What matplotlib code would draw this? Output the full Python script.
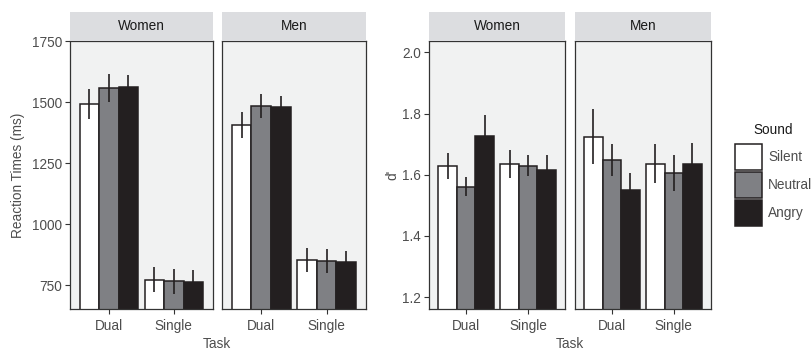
import numpy as np
import matplotlib
matplotlib.use('Agg')
import matplotlib.pyplot as plt
from matplotlib.patches import Rectangle

plt.rcParams['font.family'] = ['Liberation Sans', 'DejaVu Sans']
plt.rcParams['font.size'] = 9.8

sounds = ['Silent', 'Neutral', 'Angry']
tasks = ['Dual', 'Single']
genders = ['Women', 'Men']

# mean reaction time (ms) and error, rows = task, columns = sound
rt_women = [[1493, 1559, 1561], [773, 767, 765]]
rt_women_err = [[60, 56, 49], [52, 52, 46]]
rt_men = [[1407, 1484, 1482], [853, 848, 846]]
rt_men_err = [[52, 49, 44], [48, 49, 45]]

# sensitivity d'
dp_women = [[1.629, 1.560, 1.728], [1.634, 1.630, 1.616]]
dp_women_err = [[0.043, 0.031, 0.066], [0.046, 0.035, 0.050]]
dp_men = [[1.724, 1.648, 1.549], [1.636, 1.605, 1.634]]
dp_men_err = [[0.090, 0.053, 0.058], [0.063, 0.059, 0.070]]

fills = ['#ffffff', '#7f8084', '#231f20']
edge = '#231f20'
panel_bg = '#f1f2f2'
strip_bg = '#dcdde0'
grey_txt = '#4d4d4d'

W, H = 812, 349
fig = plt.figure(figsize=(W / 100, H / 100), dpi=100)


def px_axes(x0, x1, y0, y1):
    return fig.add_axes([x0 / W, 1 - y1 / H, (x1 - x0) / W, (y1 - y0) / H])


def draw_panel(ax, means, errs, ylim, yticks, ylabels, title):
    means = np.array(means)
    errs = np.array(errs)
    x = np.arange(1, len(tasks) + 1)
    width = 0.3
    for i in range(len(sounds)):
        xs = x + (i - 1) * width
        ax.bar(xs, means[:, i], width=width, color=fills[i], edgecolor=edge,
               linewidth=1.1, zorder=2)
        ax.errorbar(xs, means[:, i], yerr=errs[:, i], fmt='none',
                    ecolor=edge, elinewidth=1.2, capsize=0, zorder=3)
    ax.set_xlim(0.4, 2.6)
    ax.set_ylim(*ylim)
    ax.set_facecolor(panel_bg)
    for s in ax.spines.values():
        s.set_color('#333333')
        s.set_linewidth(0.9)
        s.set_zorder(4)
    ax.set_xticks(x)
    ax.set_xticklabels(tasks, color=grey_txt)
    ax.set_yticks(yticks)
    if ylabels:
        ax.set_yticklabels(ylabels, color=grey_txt)
        ax.tick_params(axis='y', length=3.6, width=0.8, color='#333333', pad=2.2)
    else:
        ax.tick_params(axis='y', left=False, labelleft=False)
    ax.tick_params(axis='x', length=3.6, width=0.8, color='#333333', pad=3.5)

    # facet strip above the panel
    pos = ax.get_position()
    strip = fig.add_axes([pos.x0, pos.y1, pos.width, 28.7 / H])
    strip.set_facecolor(strip_bg)
    strip.set_xticks([])
    strip.set_yticks([])
    for s in strip.spines.values():
        s.set_visible(False)
    strip.text(0.5, 0.5, title, ha='center', va='center', color='#1a1a1a',
               transform=strip.transAxes)


top, bottom = 40.7, 309.3

rt_ticks = [750, 1000, 1250, 1500, 1750]
ax1 = px_axes(70, 212.7, top, bottom)
draw_panel(ax1, rt_women, rt_women_err, (652, 1752), rt_ticks,
           [str(t) for t in rt_ticks], genders[0])
ax2 = px_axes(222, 365.7, top, bottom)
draw_panel(ax2, rt_men, rt_men_err, (652, 1752), rt_ticks, None, genders[1])

dp_ticks = [1.2, 1.4, 1.6, 1.8, 2.0]
ax3 = px_axes(429, 565.3, top, bottom)
draw_panel(ax3, dp_women, dp_women_err, (1.16, 2.038), dp_ticks,
           ['%.1f' % t for t in dp_ticks], genders[0])
ax4 = px_axes(574.7, 711, top, bottom)
draw_panel(ax4, dp_men, dp_men_err, (1.16, 2.038), dp_ticks, None, genders[1])

fig.text(18 / W, 1 - 175 / H, 'Reaction Times (ms)', rotation=90,
         ha='center', va='center', color=grey_txt)
fig.text(392 / W, 1 - 175 / H, "d'", rotation=90,
         ha='center', va='center', color=grey_txt)
fig.text(216.7 / W, 1 - 347.5 / H, 'Task', ha='center', va='baseline', color=grey_txt)
fig.text(570 / W, 1 - 347.5 / H, 'Task', ha='center', va='baseline', color=grey_txt)

# legend: stacked fill keys with labels to the right
key_x0, key_w, key_top, key_h = 735, 27, 143.3, 28
fig.text(773 / W, 1 - 130 / H, 'Sound', ha='center', va='center', color='#1a1a1a')
for i, name in enumerate(sounds):
    y0 = key_top + i * key_h
    fig.patches.append(Rectangle((key_x0 / W, 1 - (y0 + key_h - 1) / H),
                                 key_w / W, (key_h - 1.5) / H,
                                 transform=fig.transFigure, facecolor=fills[i],
                                 edgecolor=edge, linewidth=1.1))
    fig.text(768 / W, 1 - (y0 + key_h / 2) / H, name, ha='left', va='center',
             color=grey_txt)

fig.savefig('out.png', dpi=100)
